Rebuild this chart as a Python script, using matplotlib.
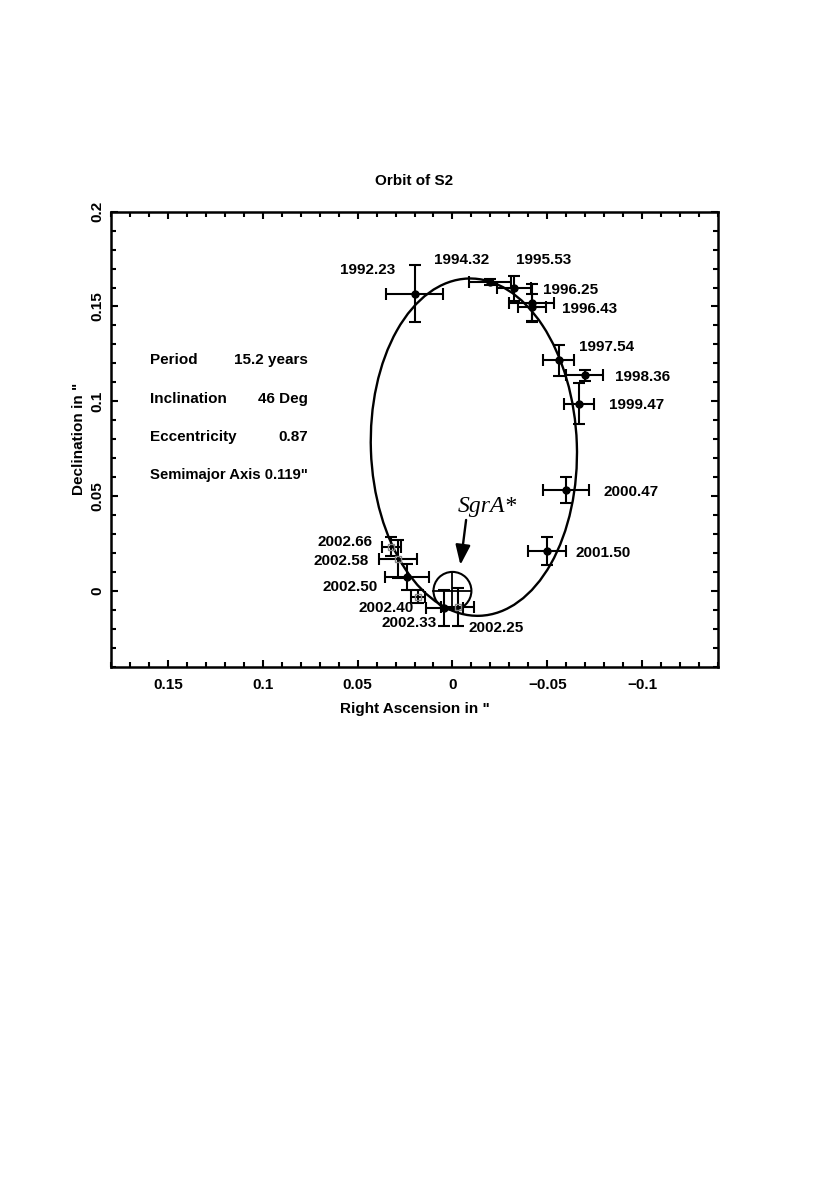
import numpy as np
import matplotlib
matplotlib.use("Agg")
import matplotlib.pyplot as plt
from matplotlib.patches import Ellipse, Circle
from matplotlib.ticker import FixedLocator, MultipleLocator, FuncFormatter

plt.rcParams['font.family'] = ['Liberation Sans', 'DejaVu Sans']
plt.rcParams['font.weight'] = 'bold'

# ---- data (arcsec) ----
epochs = ['1992.23', '1994.32', '1995.53', '1996.25', '1996.43', '1997.54',
          '1998.36', '1999.47', '2000.47', '2001.50', '2002.25', '2002.33',
          '2002.40', '2002.50', '2002.58', '2002.66']
ra = [0.020, -0.0198, -0.0326, -0.0418, -0.0420, -0.0560, -0.0698, -0.0668,
      -0.0598, -0.0498, -0.0028, 0.0042, 0.0182, 0.0240, 0.0288, 0.0323]
dec = [0.1567, 0.1628, 0.1596, 0.1520, 0.1496, 0.1216, 0.1137, 0.0988,
       0.0532, 0.0210, -0.0086, -0.0091, -0.0030, 0.0072, 0.0168, 0.0233]
ra_err = [0.015, 0.011, 0.0089, 0.012, 0.0075, 0.0083, 0.0098, 0.008,
          0.012, 0.010, 0.0088, 0.010, 0.0035, 0.0114, 0.010, 0.005]
dec_err = [0.015, 0.0017, 0.0066, 0.010, 0.0072, 0.008, 0.0028, 0.011,
           0.0068, 0.0073, 0.010, 0.0096, 0.0035, 0.007, 0.010, 0.005]
square_epochs = ['2002.25', '2002.40', '2002.58', '2002.66']

# fitted orbit (apparent ellipse) and orbital elements
orbit_center = (-0.0113, 0.0758)
orbit_width = 0.1086
orbit_height = 0.178
orbit_angle = -2.0
sgra_pos = (0.0, 0.0)
sgra_radius = 0.010
info_names = ['Period', 'Inclination', 'Eccentricity']
info_values = ['15.2 years', '46 Deg', '0.87']
info_last = 'Semimajor Axis 0.119"'

x_major = [0.15, 0.1, 0.05, 0.0, -0.05, -0.1]
y_major = [0.0, 0.05, 0.1, 0.15, 0.2]

# label offsets (pixels)
label_offsets = {
    '1992.23': (-46.5, 23.3), '1994.32': (-28, 22.7), '1995.53': (29.5, 28.7),
    '1996.25': (38.8, 13), '1996.43': (57.5, -1.5), '1997.54': (48, 13.2),
    '1998.36': (57.3, -1.7), '1999.47': (57.3, -1.7), '2000.47': (65.4, -1.8),
    '2001.50': (56.6, -1.6), '2002.25': (37.9, -21), '2002.33': (-35.8, -15.0),
    '2002.40': (-31.7, -11.8), '2002.50': (-56.9, -9.4), '2002.58': (-57, -1.9),
    '2002.66': (-46.6, 5),
}

fig = plt.figure(figsize=(8.3, 11.91), dpi=100)
ax = fig.add_axes([111/830, 1 - 666.7/1191, 607/830, 455/1191])
ax.set_xlim(0.18, -0.14)
ax.set_ylim(-0.04, 0.2)

lw = 1.5
# orbit
ax.add_patch(Ellipse(orbit_center, orbit_width, orbit_height, angle=orbit_angle,
                     fill=False, lw=1.7, color='black', zorder=2))

# SgrA* circle with cross
ax.add_patch(Circle(sgra_pos, sgra_radius, fill=False, lw=1.5, color='black', zorder=3))
ax.plot([sgra_pos[0] - sgra_radius, sgra_pos[0] + sgra_radius], [sgra_pos[1]] * 2,
        color='black', lw=1.3, zorder=3)
ax.plot([sgra_pos[0]] * 2, [sgra_pos[1] - sgra_radius, sgra_pos[1] + sgra_radius],
        color='black', lw=1.3, zorder=3)

for i, ep in enumerate(epochs):
    sq = ep in square_epochs
    ax.errorbar(ra[i], dec[i], xerr=ra_err[i], yerr=dec_err[i], fmt='none',
                ecolor='black', elinewidth=lw, capsize=4.5, capthick=lw, zorder=4)
    if sq:
        ax.plot(ra[i], dec[i], marker='s', ms=4.5, mfc='none', mec='#888888',
                mew=1.0, zorder=5)
    else:
        ax.plot(ra[i], dec[i], marker='o', ms=5, color='black', zorder=5)
    dx, dy = label_offsets[ep]
    ax.annotate(ep, (ra[i], dec[i]), xytext=(dx, dy), textcoords='offset pixels',
                ha='center', va='center', fontsize=11, fontweight='bold')

# SgrA* label and arrow
ax.annotate('', xy=(-0.0042, 0.0137), xytext=(-0.0072, 0.0374),
            arrowprops=dict(arrowstyle='-|>,head_length=1.2,head_width=0.45',
                            mutation_scale=10, lw=1.7, color='black',
                            shrinkA=0, shrinkB=0), zorder=6)
ax.text(-0.0184, 0.0444, 'SgrA*', family=['Liberation Serif', 'DejaVu Serif'],
        style='italic', fontweight='normal', fontsize=17, ha='center', va='center')

# info block
for k, (n, v) in enumerate(zip(info_names, info_values)):
    yy = 0.1216 - 0.0202 * k
    ax.text(0.1595, yy, n, ha='left', va='center', fontsize=11, fontweight='bold')
    ax.text(0.0763, yy, v, ha='right', va='center', fontsize=11, fontweight='bold')
ax.text(0.1595, 0.1216 - 0.0202 * 3, info_last, ha='left', va='center',
        fontsize=10.7, fontweight='bold')

# axes styling
fmt = FuncFormatter(lambda v, p: ('%g' % v).replace('-', '\u2212'))
ax.xaxis.set_major_locator(FixedLocator(x_major))
ax.yaxis.set_major_locator(FixedLocator(y_major))
ax.xaxis.set_minor_locator(MultipleLocator(0.01))
ax.yaxis.set_minor_locator(MultipleLocator(0.01))
ax.xaxis.set_major_formatter(fmt)
ax.yaxis.set_major_formatter(fmt)
ax.tick_params(which='both', direction='in', top=True, right=True, width=1.5)
ax.tick_params(which='major', length=5.3, labelsize=11)
ax.tick_params(which='minor', length=3.6)
ax.tick_params(axis='x', which='major', pad=8)
ax.tick_params(axis='y', which='major', pad=5)
for lab in ax.get_yticklabels():
    lab.set_rotation(90)
    lab.set_va('center')
for s in ax.spines.values():
    s.set_linewidth(1.8)

ax.set_title('Orbit of S2', fontsize=11, fontweight='bold', pad=19)
ax.set_xlabel('Right Ascension in "', fontsize=11, fontweight='bold', labelpad=7.5)
ax.set_ylabel('Declination in "', fontsize=11, fontweight='bold', labelpad=3)

fig.savefig('out.png', dpi=100)
